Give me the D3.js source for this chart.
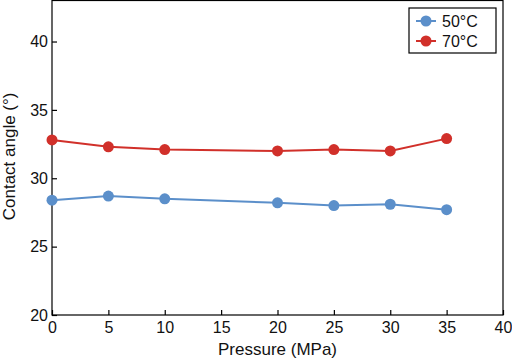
<!DOCTYPE html>
<html><head><meta charset="utf-8">
<script src="https://cdn.jsdelivr.net/npm/d3@7"></script>
<style>body{margin:0;background:#fff}svg{display:block;font-family:"Liberation Sans",Arial,sans-serif}</style>
</head><body><svg id="c" width="512" height="359"></svg>
<script>
const pressure = [0, 5, 10, 20, 25, 30, 35];
const series50 = [28.4, 28.7, 28.5, 28.2, 28.0, 28.1, 27.7];
const series70 = [32.8, 32.3, 32.1, 32.0, 32.1, 32.0, 32.9];
const seriesNames = ["50°C", "70°C"];
const seriesColors = ["#5b8fca", "#d1302a"];
const xTicks = [0, 5, 10, 15, 20, 25, 30, 35, 40];
const yTicks = [20, 25, 30, 35, 40];

const svg = d3.select("#c");
const L = 52, R = 503, T = 0.5, B = 315;
const x = d3.scaleLinear().domain([0, 40]).range([L, R]);
const y = d3.scaleLinear().domain([20, 43]).range([B, T]);

svg.append("rect").attr("x", L).attr("y", T).attr("width", R - L).attr("height", B - T)
  .attr("fill", "none").attr("stroke", "#000").attr("stroke-width", 1.2);

const xa = svg.append("g").attr("transform", `translate(0,${B})`)
  .call(d3.axisBottom(x).tickValues(xTicks).tickSize(-5).tickPadding(7));
const ya = svg.append("g").attr("transform", `translate(${L},0)`)
  .call(d3.axisLeft(y).tickValues(yTicks).tickSize(-5).tickPadding(4));
[xa, ya].forEach(g => {
  g.select(".domain").remove();
  g.selectAll("line").attr("stroke", "#000").attr("stroke-width", 1.2);
  g.selectAll("text").attr("font-size", 16).attr("fill", "#111").attr("font-family", "Liberation Sans, Arial, sans-serif");
});

svg.append("text").attr("x", x(20)).attr("y", 355).attr("text-anchor", "middle")
  .attr("font-size", 17).attr("fill", "#111").text("Pressure (MPa)");
svg.append("text").attr("transform", `translate(15,${y(31.6)}) rotate(-90)`).attr("text-anchor", "middle")
  .attr("font-size", 17).attr("fill", "#111").text("Contact angle (°)");

const all = [series50, series70];
const line = d3.line().x((d, i) => x(pressure[i])).y(d => y(d));
all.forEach((s, k) => {
  svg.append("path").datum(s).attr("d", line).attr("fill", "none")
    .attr("stroke", seriesColors[k]).attr("stroke-width", 2);
  svg.selectAll(null).data(s).enter().append("circle")
    .attr("cx", (d, i) => x(pressure[i])).attr("cy", d => y(d)).attr("r", 5.5)
    .attr("fill", seriesColors[k]);
});

const lg = svg.append("g");
lg.append("rect").attr("x", 409).attr("y", 8).attr("width", 87).attr("height", 45)
  .attr("fill", "#fff").attr("stroke", "#000").attr("stroke-width", 1.2);
seriesNames.forEach((n, k) => {
  const yy = 21 + k * 20;
  lg.append("line").attr("x1", 416).attr("x2", 436).attr("y1", yy).attr("y2", yy)
    .attr("stroke", seriesColors[k]).attr("stroke-width", 2);
  lg.append("circle").attr("cx", 426).attr("cy", yy).attr("r", 5.5).attr("fill", seriesColors[k]);
  lg.append("text").attr("x", 442).attr("y", yy + 6).attr("font-size", 16).attr("fill", "#111").text(n);
});
</script></body></html>
